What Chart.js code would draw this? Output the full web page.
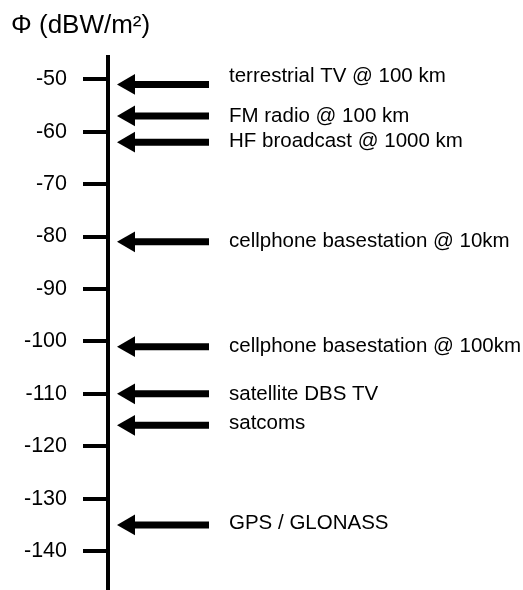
<!DOCTYPE html>
<html>
<head>
<meta charset="utf-8">
<title>Flux density of common signals</title>
<script src="https://cdn.jsdelivr.net/npm/chart.js@4/dist/chart.umd.min.js"></script>
<style>
  html, body { margin: 0; padding: 0; background: #fff; }
  #wrap { width: 523px; height: 590px; }
</style>
</head>
<body>
<div id="wrap"><canvas id="fluxChart" width="523" height="590"></canvas></div>
<script>
// signal sources and their flux density at the receiver (dBW/m2)
var sources = [
    'terrestrial TV @ 100 km',
    'FM radio @ 100 km',
    'HF broadcast @ 1000 km',
    'cellphone basestation @ 10km',
    'cellphone basestation @ 100km',
    'satellite DBS TV',
    'satcoms',
    'GPS / GLONASS'
];
var fluxLevels = [-51, -57, -62, -81, -101, -110, -116, -135];
var yTicks = [-50, -60, -70, -80, -90, -100, -110, -120, -130, -140];

var FONT = '"Liberation Sans", Arial, sans-serif';

// arrow geometry, in pixels right of the axis (x scale is 1 unit = 1 px)
var HEAD_X = 21;
var TAIL_X = 101;
var TEXT_X = 121;

var datasets = sources.map(function(name, i) {
    return {
        label: name,
        data: [{x: HEAD_X, y: fluxLevels[i]}, {x: TAIL_X, y: fluxLevels[i]}],
        borderColor: '#000',
        backgroundColor: '#000',
        borderWidth: 7,
        pointStyle: 'triangle',
        pointRotation: -90,
        pointRadius: [12, 0],
        pointBorderWidth: 0,
        pointHoverRadius: [12, 0]
    };
});

var sourceLabels = {
    id: 'sourceLabels',
    afterDatasetsDraw: function(chart, args, opts) {
        var ctx = chart.ctx;
        var xs = chart.scales.x, ys = chart.scales.y;
        ctx.save();
        ctx.font = opts.size + 'px ' + FONT;
        ctx.fillStyle = '#000';
        ctx.textAlign = 'left';
        ctx.textBaseline = 'middle';
        for (var i = 0; i < sources.length; i++) {
            var y = ys.getPixelForValue(fluxLevels[i]) + (opts.nudge[i] || 0);
            ctx.fillText(sources[i], xs.getPixelForValue(TEXT_X), y);
        }
        ctx.restore();
    }
};

var ctx = document.getElementById('fluxChart').getContext('2d');
var chart = new Chart(ctx, {
    type: 'line',
    data: { datasets: datasets },
    options: {
        responsive: false,
        animation: false,
        events: [],
        layout: { autoPadding: false, padding: { left: 11, right: 0, top: 0, bottom: 0 } },
        scales: {
            x: { type: 'linear', display: false, min: 0, max: 415 },
            y: {
                min: -147.4,
                max: -45.8,
                afterFit: function(scale) {
                    scale.width = 97;
                    scale.paddingTop = 0;
                    scale.paddingBottom = 0;
                },
                afterBuildTicks: function(scale) {
                    scale.ticks = yTicks.map(function(v) { return {value: v}; });
                },
                ticks: {
                    color: '#000',
                    padding: 16,
                    font: { size: 21.5, family: FONT }
                },
                grid: {
                    drawOnChartArea: false,
                    tickLength: 25,
                    color: '#000',
                    lineWidth: 4
                },
                border: { display: true, color: '#000', width: 4 }
            }
        },
        plugins: {
            legend: { display: false },
            tooltip: { enabled: false },
            title: {
                display: true,
                text: 'Φ (dBW/m²)',
                align: 'start',
                color: '#000',
                font: { size: 26, family: FONT, weight: 'normal' },
                padding: { top: 10, bottom: 16 }
            },
            sourceLabels: { size: 20.5, nudge: [-8, 0, -1, 0, 0, 0, -2, -2] }
        }
    },
    plugins: [sourceLabels]
});
</script>
</body>
</html>
